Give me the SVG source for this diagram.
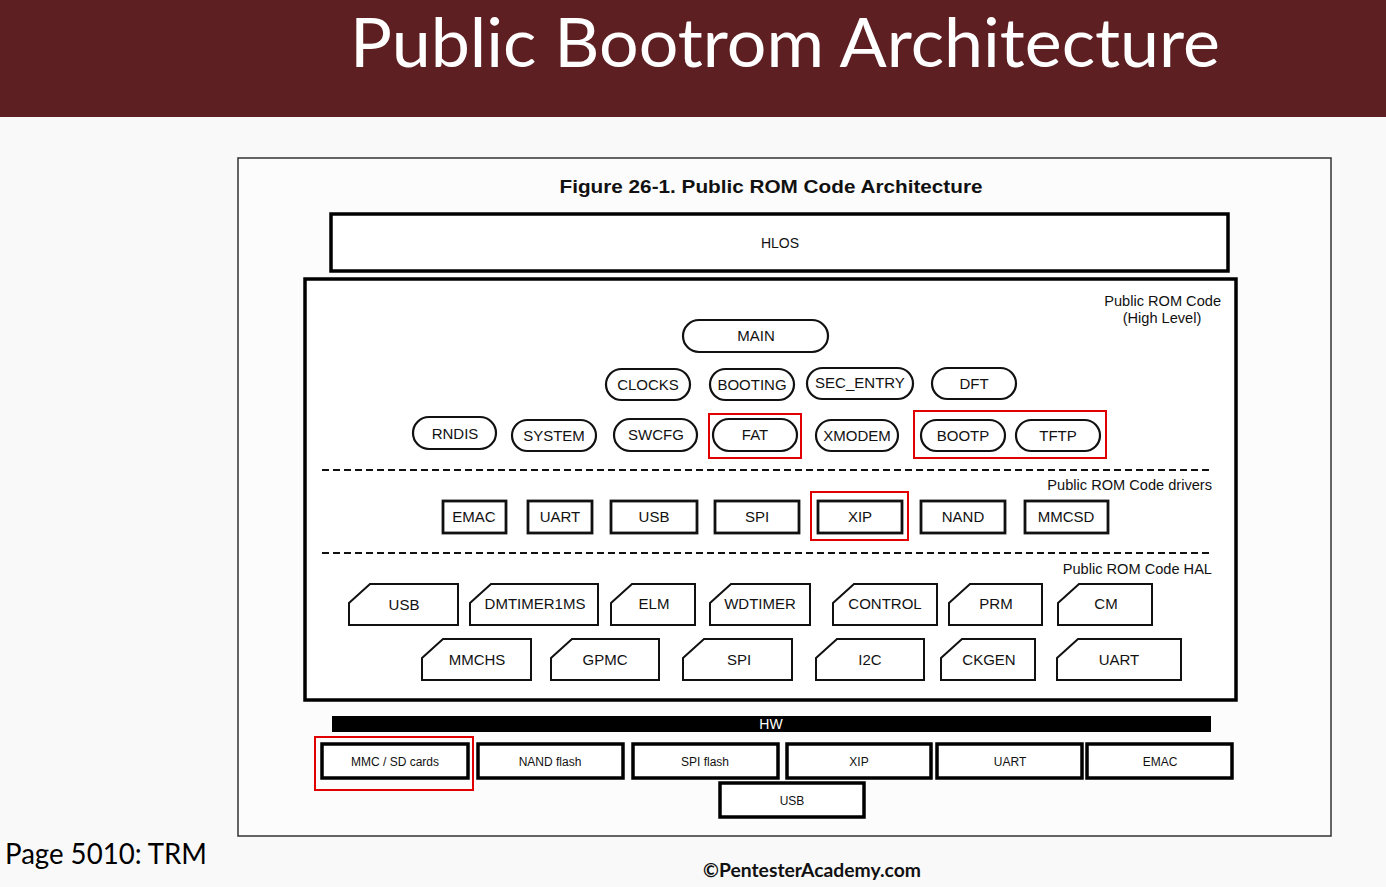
<svg xmlns="http://www.w3.org/2000/svg" width="1386" height="887" viewBox="0 0 1386 887">
<style>
  text { font-family: "Liberation Sans", Arial, sans-serif; fill: #111; }
  .t15 { font-size: 15px; text-anchor: middle; }
  .t14 { font-size: 14px; }
  .lbl { font-size: 14.6px; }
  .t12 { font-size: 12px; text-anchor: middle; }
  .pill { fill: #fff; stroke: #111; stroke-width: 2.2; }
  .drv { fill: #fff; stroke: #111; stroke-width: 2.8; }
  .hal { fill: #fff; stroke: #111; stroke-width: 2; }
  .big { fill: #fff; stroke: #000; stroke-width: 3.5; }
  .hw { fill: #fff; stroke: #000; stroke-width: 3.5; }
  .red { fill: none; stroke: #e00000; stroke-width: 2; }
  .dash { stroke: #111; stroke-width: 2; stroke-dasharray: 7 4; fill: none; }
</style>
<rect x="0" y="0" width="1386" height="887" fill="#f9f9f9"/>
<rect x="0" y="0" width="1386" height="117" fill="#5e1f22"/>
<text x="785" y="67" style="font-family: Lato, 'Open Sans', sans-serif; font-size: 68px; fill: #fff;" text-anchor="middle" textLength="870" lengthAdjust="spacingAndGlyphs">Public Bootrom Architecture</text>

<rect x="238" y="158" width="1093" height="678" fill="#fcfcfc" stroke="#333" stroke-width="1.5"/>
<text x="771" y="193" style="font-size: 19px; font-weight: bold;" text-anchor="middle" textLength="423" lengthAdjust="spacingAndGlyphs">Figure 26-1. Public ROM Code Architecture</text>

<g id="hlos">
  <rect class="big" x="331" y="214" width="897" height="57"/>
  <text class="t14" x="780" y="248" text-anchor="middle">HLOS</text>
</g>

<g id="public-rom-code">
  <rect class="big" x="305" y="279" width="931" height="421"/>
  <text class="lbl" x="1221" y="306" text-anchor="end">Public ROM Code</text>
  <text class="lbl" x="1162" y="323" text-anchor="middle">(High Level)</text>
  <line class="dash" x1="322" y1="470" x2="1212" y2="470"/>
  <text class="lbl" x="1212" y="490" text-anchor="end">Public ROM Code drivers</text>
  <line class="dash" x1="322" y1="553" x2="1212" y2="553"/>
  <text class="lbl" x="1212" y="574" text-anchor="end">Public ROM Code HAL</text>
</g>

<g id="main"><rect class="pill" x="683" y="320" width="145" height="32" rx="16"/><text class="t15" x="756" y="341">MAIN</text></g>
<g id="clocks"><rect class="pill" x="606" y="369" width="84" height="31" rx="15.5"/><text class="t15" x="648" y="390">CLOCKS</text></g>
<g id="booting"><rect class="pill" x="710" y="369" width="84" height="31" rx="15.5"/><text class="t15" x="752" y="390">BOOTING</text></g>
<g id="sec-entry"><rect class="pill" x="807" y="368" width="106" height="31" rx="15.5"/><text class="t15" x="860" y="388">SEC_ENTRY</text></g>
<g id="dft"><rect class="pill" x="932" y="368" width="84" height="31" rx="15.5"/><text class="t15" x="974" y="389">DFT</text></g>

<g id="rndis"><rect class="pill" x="413" y="417" width="83" height="32" rx="16"/><text class="t15" x="455" y="439">RNDIS</text></g>
<g id="system"><rect class="pill" x="512" y="420" width="84" height="31" rx="15.5"/><text class="t15" x="554" y="441">SYSTEM</text></g>
<g id="swcfg"><rect class="pill" x="614" y="419" width="83" height="32" rx="16"/><text class="t15" x="656" y="440">SWCFG</text></g>
<g id="fat"><rect class="pill" x="713" y="419" width="84" height="32" rx="16"/><text class="t15" x="755" y="440">FAT</text><rect class="red" x="709" y="414" width="92" height="44"/></g>
<g id="xmodem"><rect class="pill" x="816" y="420" width="82" height="31" rx="15.5"/><text class="t15" x="857" y="441">XMODEM</text></g>
<g id="bootp"><rect class="pill" x="921" y="420" width="84" height="31" rx="15.5"/><text class="t15" x="963" y="441">BOOTP</text></g>
<g id="tftp"><rect class="pill" x="1016" y="420" width="84" height="31" rx="15.5"/><text class="t15" x="1058" y="441">TFTP</text></g>
<rect class="red" x="914" y="411" width="192" height="47"/>

<g id="drv-emac"><rect class="drv" x="443" y="501" width="63" height="32"/><text class="t15" x="474" y="522">EMAC</text></g>
<g id="drv-uart"><rect class="drv" x="528" y="501" width="64" height="32"/><text class="t15" x="560" y="522">UART</text></g>
<g id="drv-usb"><rect class="drv" x="611" y="501" width="86" height="32"/><text class="t15" x="654" y="522">USB</text></g>
<g id="drv-spi"><rect class="drv" x="715" y="501" width="84" height="32"/><text class="t15" x="757" y="522">SPI</text></g>
<g id="drv-xip"><rect class="drv" x="818" y="501" width="84" height="32"/><text class="t15" x="860" y="522">XIP</text><rect class="red" x="811" y="492" width="97" height="48"/></g>
<g id="drv-nand"><rect class="drv" x="921" y="501" width="84" height="32"/><text class="t15" x="963" y="522">NAND</text></g>
<g id="drv-mmcsd"><rect class="drv" x="1025" y="501" width="83" height="32"/><text class="t15" x="1066" y="522">MMCSD</text></g>

<g id="hal-usb"><path class="hal" d="M349,603 L370,584 L458,584 L458,625 L349,625 Z"/><text class="t15" x="404" y="610">USB</text></g>
<g id="hal-dmtimer1ms"><path class="hal" d="M470,603 L491,584 L598,584 L598,625 L470,625 Z"/><text class="t15" x="535" y="609">DMTIMER1MS</text></g>
<g id="hal-elm"><path class="hal" d="M611,603 L632,584 L695,584 L695,625 L611,625 Z"/><text class="t15" x="654" y="609">ELM</text></g>
<g id="hal-wdtimer"><path class="hal" d="M710,603 L731,584 L810,584 L810,625 L710,625 Z"/><text class="t15" x="760" y="609">WDTIMER</text></g>
<g id="hal-control"><path class="hal" d="M833,603 L854,584 L937,584 L937,625 L833,625 Z"/><text class="t15" x="885" y="609">CONTROL</text></g>
<g id="hal-prm"><path class="hal" d="M949,603 L970,584 L1042,584 L1042,625 L949,625 Z"/><text class="t15" x="996" y="609">PRM</text></g>
<g id="hal-cm"><path class="hal" d="M1058,603 L1079,584 L1152,584 L1152,625 L1058,625 Z"/><text class="t15" x="1106" y="609">CM</text></g>

<g id="hal-mmchs"><path class="hal" d="M422,658 L443,639 L531,639 L531,680 L422,680 Z"/><text class="t15" x="477" y="665">MMCHS</text></g>
<g id="hal-gpmc"><path class="hal" d="M551,658 L572,639 L659,639 L659,680 L551,680 Z"/><text class="t15" x="605" y="665">GPMC</text></g>
<g id="hal-spi"><path class="hal" d="M683,658 L704,639 L792,639 L792,680 L683,680 Z"/><text class="t15" x="739" y="665">SPI</text></g>
<g id="hal-i2c"><path class="hal" d="M816,658 L837,639 L924,639 L924,680 L816,680 Z"/><text class="t15" x="870" y="665">I2C</text></g>
<g id="hal-ckgen"><path class="hal" d="M941,658 L962,639 L1035,639 L1035,680 L941,680 Z"/><text class="t15" x="989" y="665">CKGEN</text></g>
<g id="hal-uart"><path class="hal" d="M1057,658 L1078,639 L1181,639 L1181,680 L1057,680 Z"/><text class="t15" x="1119" y="665">UART</text></g>

<g id="hw-bar">
  <rect x="332" y="716" width="879" height="16" fill="#000"/>
  <text x="771" y="729" style="font-size: 14px; fill: #fff;" text-anchor="middle">HW</text>
</g>

<g id="hw-mmc"><rect class="hw" x="322" y="744" width="146" height="34"/><text class="t12" x="395" y="766">MMC / SD cards</text><rect class="red" x="315" y="737" width="158" height="53"/></g>
<g id="hw-nand"><rect class="hw" x="478" y="744" width="145" height="34"/><text class="t12" x="550" y="766">NAND flash</text></g>
<g id="hw-spi"><rect class="hw" x="633" y="744" width="145" height="34"/><text class="t12" x="705" y="766">SPI flash</text></g>
<g id="hw-xip"><rect class="hw" x="787" y="744" width="144" height="34"/><text class="t12" x="859" y="766">XIP</text></g>
<g id="hw-uart"><rect class="hw" x="937" y="744" width="145" height="34"/><text class="t12" x="1010" y="766">UART</text></g>
<g id="hw-emac"><rect class="hw" x="1087" y="744" width="145" height="34"/><text class="t12" x="1160" y="766">EMAC</text></g>
<g id="hw-usb"><rect class="hw" x="720" y="783" width="144" height="34"/><text class="t12" x="792" y="805">USB</text></g>

<g id="connectors"></g>

<text x="5" y="864" style="font-family: Lato, 'Open Sans', sans-serif; font-size: 29px; fill: #000;" textLength="202" lengthAdjust="spacingAndGlyphs">Page 5010: TRM</text>
<text x="812" y="877" style="font-family: Lato, 'Open Sans', sans-serif; font-size: 18px; font-weight: bold; fill: #111;" text-anchor="middle" textLength="218" lengthAdjust="spacingAndGlyphs">©PentesterAcademy.com</text>
</svg>
